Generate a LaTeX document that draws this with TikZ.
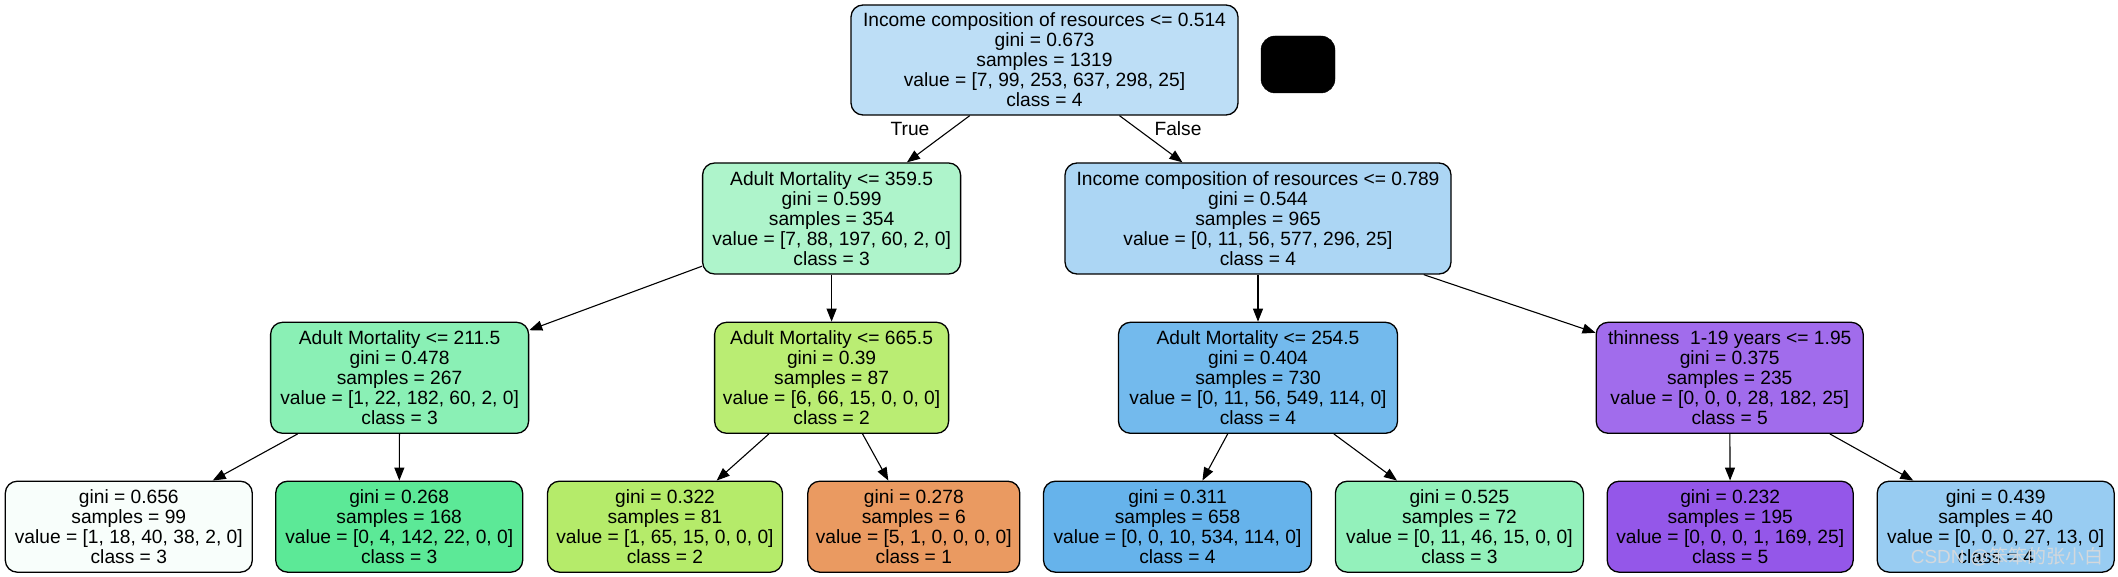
\documentclass[tikz,border=0pt]{standalone}
\usepackage{fontspec}
\setmainfont{Liberation Sans}
\newfontfamily\cjkfont{Noto Sans CJK SC}
\usetikzlibrary{arrows.meta}
\definecolor{cRoot}{HTML}{BDDEF6}
\definecolor{cAMa}{HTML}{AEF4CB}
\definecolor{cICb}{HTML}{ACD6F4}
\definecolor{cAMc}{HTML}{8AF0B5}
\definecolor{cAMd}{HTML}{BAED73}
\definecolor{cAMe}{HTML}{73BAED}
\definecolor{cThin}{HTML}{A16CEC}
\definecolor{cLa}{HTML}{F8FEFB}
\definecolor{cLb}{HTML}{5CE997}
\definecolor{cLc}{HTML}{B5EB6A}
\definecolor{cLd}{HTML}{EA9A61}
\definecolor{cLe}{HTML}{66B3EB}
\definecolor{cLf}{HTML}{93F1BB}
\definecolor{cLg}{HTML}{9457E9}
\definecolor{cLh}{HTML}{98CCF2}
\definecolor{cWm}{HTML}{D4D8DC}
\tikzset{
  treebox/.style={draw=black, line width=1.3pt, rounded corners=12pt, inner sep=0pt,
    align=center, font=\fontsize{19.2}{20}\selectfont, minimum height=111pt},
  leafbox/.style={treebox, minimum height=91pt},
  edgelbl/.style={font=\fontsize{19.2}{20}\selectfont, inner sep=0pt},
  edge/.style={draw=black, line width=1.1pt, -{Triangle[length=13pt,width=10pt]}}
}
\begin{document}
\begin{tikzpicture}[x=1pt,y=-1pt]
\useasboundingbox (0,0) rectangle (2118,577);
% level 0
\node[treebox, fill=cRoot, minimum width=387pt, minimum height=110pt] (root) at (1044.5,60)
  {Income composition of resources <= 0.514\\gini = 0.673\\samples = 1319\\value = [7, 99, 253, 637, 298, 25]\\class = 4};
\node[draw=black, fill=black, rounded corners=14pt, minimum width=74pt, minimum height=57pt, inner sep=0pt] (blk) at (1298,64.5) {};
% level 1
\node[treebox, fill=cAMa, minimum width=258pt] (am359) at (831.6,218.5)
  {Adult Mortality <= 359.5\\gini = 0.599\\samples = 354\\value = [7, 88, 197, 60, 2, 0]\\class = 3};
\node[treebox, fill=cICb, minimum width=386pt] (ic789) at (1258,218.5)
  {Income composition of resources <= 0.789\\gini = 0.544\\samples = 965\\value = [0, 11, 56, 577, 296, 25]\\class = 4};
% level 2
\node[treebox, fill=cAMc, minimum width=258pt] (am211) at (399.6,377.8)
  {Adult Mortality <= 211.5\\gini = 0.478\\samples = 267\\value = [1, 22, 182, 60, 2, 0]\\class = 3};
\node[treebox, fill=cAMd, minimum width=234pt] (am665) at (831.6,377.8)
  {Adult Mortality <= 665.5\\gini = 0.39\\samples = 87\\value = [6, 66, 15, 0, 0, 0]\\class = 2};
\node[treebox, fill=cAMe, minimum width=279pt] (am254) at (1258,377.8)
  {Adult Mortality <= 254.5\\gini = 0.404\\samples = 730\\value = [0, 11, 56, 549, 114, 0]\\class = 4};
\node[treebox, fill=cThin, minimum width=267pt] (thin) at (1729.7,377.8)
  {thinness\ \ 1-19 years <= 1.95\\gini = 0.375\\samples = 235\\value = [0, 0, 0, 28, 182, 25]\\class = 5};
% leaves
\node[leafbox, fill=cLa, minimum width=247pt] (l1) at (128.8,526.7)
  {gini = 0.656\\samples = 99\\value = [1, 18, 40, 38, 2, 0]\\class = 3};
\node[leafbox, fill=cLb, minimum width=247pt] (l2) at (399.2,526.7)
  {gini = 0.268\\samples = 168\\value = [0, 4, 142, 22, 0, 0]\\class = 3};
\node[leafbox, fill=cLc, minimum width=235pt] (l3) at (665,526.7)
  {gini = 0.322\\samples = 81\\value = [1, 65, 15, 0, 0, 0]\\class = 2};
\node[leafbox, fill=cLd, minimum width=212pt] (l4) at (913.8,526.7)
  {gini = 0.278\\samples = 6\\value = [5, 1, 0, 0, 0, 0]\\class = 1};
\node[leafbox, fill=cLe, minimum width=268pt] (l5) at (1177.5,526.7)
  {gini = 0.311\\samples = 658\\value = [0, 0, 10, 534, 114, 0]\\class = 4};
\node[leafbox, fill=cLf, minimum width=248pt] (l6) at (1459.4,526.7)
  {gini = 0.525\\samples = 72\\value = [0, 11, 46, 15, 0, 0]\\class = 3};
\node[leafbox, fill=cLg, minimum width=246pt] (l7) at (1730.2,526.7)
  {gini = 0.232\\samples = 195\\value = [0, 0, 0, 1, 169, 25]\\class = 5};
\node[leafbox, fill=cLh, minimum width=237pt] (l8) at (1995.7,526.7)
  {gini = 0.439\\samples = 40\\value = [0, 0, 0, 27, 13, 0]\\class = 4};
% edge labels
\node[edgelbl] (lt) at (910,129) {True};
\node[edgelbl] (lf) at (1178,129) {False};
% edges
\draw[edge] (root) -- (am359);
\draw[edge] (root) -- (ic789);
\draw[edge] (am359) -- (am211);
\draw[edge] (am359) -- (am665);
\draw[edge] (ic789) -- (am254);
\draw[edge] (ic789) -- (thin);
\draw[edge] (am211) -- (l1);
\draw[edge] (am211) -- (l2);
\draw[edge] (am665) -- (l3);
\draw[edge] (am665) -- (l4);
\draw[edge] (am254) -- (l5);
\draw[edge] (am254) -- (l6);
\draw[edge] (thin) -- (l7);
\draw[edge] (thin) -- (l8);
% watermark
\node[inner sep=0pt, text=cWm, font=\fontsize{19}{20}\selectfont] (wm) at (2007,557) {CSDN @{\cjkfont 笨笨的张小白}};
\end{tikzpicture}
\end{document}
